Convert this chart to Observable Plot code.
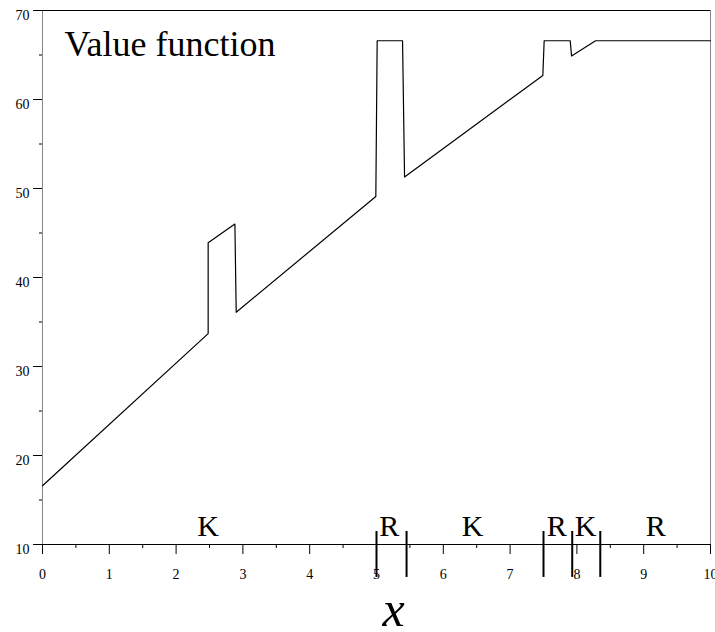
<!DOCTYPE html>
<html>
<head>
<meta charset="utf-8">
<script src="https://cdn.jsdelivr.net/npm/d3@7"></script>
<script src="https://cdn.jsdelivr.net/npm/@observablehq/plot@0.6"></script>
<style>
  html, body { margin: 0; padding: 0; background: #fff; }
  #chart svg { display: block; }
</style>
</head>
<body>
<div id="chart"></div>
<script>
// Value function V(x): piecewise linear with jumps at the regime switches
const stateX = [0, 2.48, 2.48, 2.88, 2.90, 4.99, 5.01, 5.39, 5.42, 7.49, 7.51, 7.90, 7.92, 8.28, 10];
const valueV = [16.6, 33.7, 43.9, 46.0, 36.1, 49.1, 66.6, 66.6, 51.3, 62.7, 66.6, 66.6, 64.9, 66.6, 66.6];

// Regime labels along the x axis and the boundaries between regimes
const regimeLabel = ["K", "R", "K", "R", "K", "R"];
const regimeX = [2.48, 5.19, 6.44, 7.70, 8.13, 9.18];
const boundaryX = [5.0, 5.45, 7.5, 7.93, 8.35];

// Axis ticks
const xTicks = [0, 1, 2, 3, 4, 5, 6, 7, 8, 9, 10];
const xMinor = [0.5, 1.5, 2.5, 3.5, 4.5, 5.5, 6.5, 7.5, 8.5, 9.5];
const yTicks = [10, 20, 30, 40, 50, 60, 70];
const yMinor = [15, 25, 35, 45, 55, 65];
const xDomain = [0, 10];
const yDomain = [10, 70];

const points = stateX.map((x, i) => ({x, v: valueV[i]}));
const regimes = regimeLabel.map((label, i) => ({label, x: regimeX[i]}));

const serif = "'Liberation Serif', 'Times New Roman', serif";
const blank = () => "";

const chart = Plot.plot({
  width: 715,
  height: 632,
  marginLeft: 42,
  marginRight: 5,
  marginTop: 10,
  marginBottom: 88,
  style: {fontFamily: serif, fontSize: "14px", background: "#fff", color: "#000"},
  x: {domain: xDomain},
  y: {domain: yDomain},
  marks: [
    // frame: gray sides, black top and bottom
    Plot.ruleX(xDomain, {stroke: "#888", strokeWidth: 1}),
    Plot.ruleY(yDomain, {stroke: "#000", strokeWidth: 1}),
    // tick marks
    Plot.axisY(yTicks, {tickSize: 9, tickFormat: blank, label: null}),
    Plot.axisY(yMinor, {tickSize: 3, tickFormat: blank, label: null}),
    Plot.axisX(xTicks, {tickSize: 10, tickFormat: blank, label: null}),
    Plot.axisX(xMinor, {tickSize: 4, tickFormat: blank, label: null}),
    // tick labels
    Plot.text(yTicks, {x: xDomain[0], y: d => d, text: d => String(d), textAnchor: "end", lineAnchor: "top", dx: -13, fontSize: 14, fontFamily: serif, fill: "#000"}),
    Plot.text(xTicks, {x: d => d, y: yDomain[0], text: d => String(d), lineAnchor: "bottom", dy: 34, fontSize: 14, fontFamily: serif, fill: "#000"}),
    // value function
    Plot.line(points, {x: "x", y: "v", stroke: "#000", strokeWidth: 1.2}),
    // regime boundaries and labels
    Plot.ruleX(boundaryX, {x: d => d, y1: 11.46, y2: 6.3, stroke: "#000", strokeWidth: 2}),
    Plot.text(regimes, {x: "x", y: yDomain[0], text: "label", lineAnchor: "bottom", dy: -8.5, fontSize: 30, fontFamily: serif, fill: "#000"}),
    Plot.text(["Value function"], {frameAnchor: "top-left", textAnchor: "start", lineAnchor: "bottom", dx: 22, dy: 45, fontSize: 36, fontFamily: serif, fill: "#000"}),
    Plot.text(["x"], {frameAnchor: "bottom", lineAnchor: "bottom", dx: 17, dy: 81, fontSize: 50, fontStyle: "italic", fontFamily: serif, fill: "#000"})
  ]
});

document.getElementById("chart").appendChild(chart);
</script>
</body>
</html>
